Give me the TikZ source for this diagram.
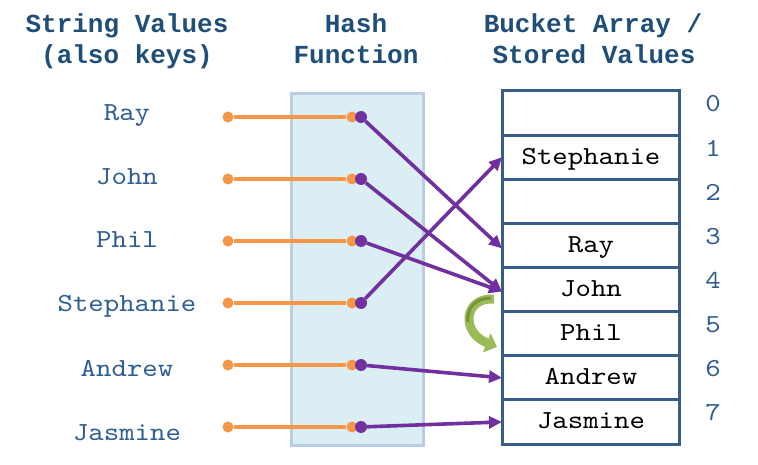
\documentclass[tikz,border=0pt]{standalone}
\usepackage{fontspec}
\setmonofont{Liberation Mono}
\newfontfamily\thinmono{lmmono10-regular.otf}[FakeStretch=1.13]
\usetikzlibrary{arrows.meta}
\definecolor{hdr}{HTML}{1F4E79}
\definecolor{lbl}{HTML}{2E5D91}
\definecolor{bucket}{HTML}{385D8A}
\definecolor{hashfill}{HTML}{DAEEF3}
\definecolor{hashline}{HTML}{B9CDE5}
\definecolor{orng}{HTML}{F79646}
\definecolor{purp}{HTML}{7030A0}
\definecolor{grn}{HTML}{9BBB59}
\definecolor{grndark}{HTML}{76923C}
\begin{document}
\begin{tikzpicture}[x=1pt,y=-1pt,
  txt/.style={font=\fontsize{26}{30}\selectfont\thinmono, inner sep=0pt, anchor=base},
  header/.style={txt, font=\fontsize{26}{30}\selectfont\ttfamily\bfseries, text=hdr},
  keylabel/.style={txt, text=lbl},
  idx/.style={txt, text=lbl},
  odot/.style={circle, fill=orng, minimum size=11pt, inner sep=0pt},
  pdot/.style={circle, fill=purp, minimum size=12pt, inner sep=0pt},
  oline/.style={orng, line width=4pt},
  parrow/.style={purp, line width=3.6pt, -{Triangle[length=13pt,width=12pt]}},
  cell/.style={draw=bucket, line width=3pt, minimum width=177pt, minimum height=44.125pt, inner sep=0pt, outer sep=0pt, anchor=north west}
]
\useasboundingbox (0,0) rectangle (758,465);

% headers
\node[header] (h1a) at (127,33) {String Values};
\node[header] (h1b) at (127,64) {(also keys)};
\node[header] (h2a) at (356,33) {Hash};
\node[header] (h2b) at (356,64) {Function};
\node[header] (h3a) at (593,33) {Bucket Array /};
\node[header] (h3b) at (594,64) {Stored Values};

% hash function box
\node[draw=hashline, fill=hashfill, line width=3pt, minimum width=132pt, minimum height=352pt, inner sep=0pt, anchor=north west] (hash) at (290,92) {};

% key labels
\node[keylabel] (kray) at (127,121) {Ray};
\node[keylabel] (kjohn) at (127,185) {John};
\node[keylabel] (kphil) at (127,248) {Phil};
\node[keylabel] (kstep) at (127,311) {Stephanie};
\node[keylabel] (kandr) at (127,376) {Andrew};
\node[keylabel] (kjas) at (127,440) {Jasmine};

% bucket cells
\foreach \i in {0,...,7} {
  \node[cell] (b\i) at (502,{91+44.125*\i}) {};
  \node[idx] (n\i) at (713,{112+44.125*\i}) {\i};
}
\node[txt] (vstep) at (591,{91+44.125*1+29}) {Stephanie};
\node[txt] (vray) at (591,{91+44.125*3+29}) {Ray};
\node[txt] (vjohn) at (591,{91+44.125*4+29}) {John};
\node[txt] (vphil) at (591,{91+44.125*5+29}) {Phil};
\node[txt] (vandr) at (591,{91+44.125*6+29}) {Andrew};
\node[txt] (vjas) at (591,{91+44.125*7+29}) {Jasmine};

% orange and purple dots
\foreach \n/\y in {1/117,2/179,3/241,4/303,5/365,6/427} {
  \node[odot] (ol\n) at (228,\y) {};
  \node[odot] (or\n) at (352,\y) {};
  \draw[oline] (ol\n) -- (or\n);
}
\foreach \n/\y in {1/117,2/179,3/241,4/303,5/365,6/427} {
  \node[pdot] (p\n) at (361,\y) {};
}

% purple arrows
\draw[parrow] (p1) -- ([yshift=-3pt]b3.west);
\draw[parrow] (p2) -- ([yshift=-2pt]b4.west);
\draw[parrow] (p3) -- ([yshift=-2pt]b4.west);
\draw[parrow] (p4) -- (b1.west);
\draw[parrow] (p5) -- (b6.west);
\draw[parrow] (p6) -- (b7.west);

% green collision arrow
\coordinate (g1) at (494,299);
\coordinate (g2) at (497,347);
\draw[grn, line width=9pt, -{Triangle[length=11pt,width=20pt]}] (g1) .. controls (464,297) and (460,332) .. (g2);
\draw[grndark, line width=3pt, line cap=round] (490,298) .. controls (472,299) and (467,311) .. (468,321);
\end{tikzpicture}
\end{document}
